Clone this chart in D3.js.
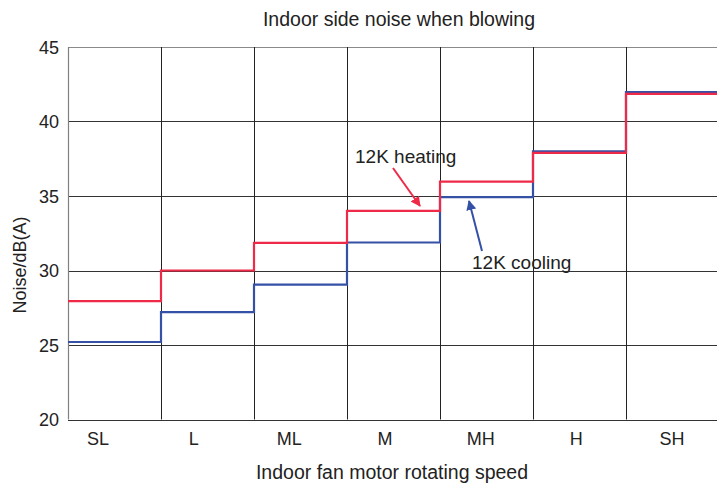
<!DOCTYPE html>
<html><head><meta charset="utf-8">
<script src="https://cdn.jsdelivr.net/npm/d3@7"></script>
<style>body{margin:0;background:#fff}svg{display:block;font-family:"Liberation Sans",Arial,sans-serif}</style>
</head><body><svg id="c" width="717" height="490"></svg>
<script>
const categories = ["SL","L","ML","M","MH","H","SH"];
const heating = [27.95, 30.0, 31.85, 34.0, 35.97, 37.9, 41.86];
const cooling = [25.2, 27.2, 29.05, 31.88, 34.93, 38.0, 41.98];
const yTicks = [20,25,30,35,40,45];

const svg = d3.select("#c");
const L = 68, T = 47, B = 419.5, colW = 93;
const x = d3.scaleBand().domain(categories).range([L, L + colW*categories.length]);
const y = d3.scaleLinear().domain([20,45]).range([B, T]);
const xl = d3.scalePoint().domain(categories).range([98, 672]);

// horizontal grid
svg.append("g").selectAll("line").data(yTicks).join("line")
  .attr("x1", L).attr("x2", 717)
  .attr("y1", d=>Math.round(y(d))+0.5).attr("y2", d=>Math.round(y(d))+0.5)
  .attr("stroke", d=> d===45 ? "#8a8a8a" : "#333").attr("stroke-width",1);
// vertical grid
svg.append("g").selectAll("line").data(categories.slice(1)).join("line")
  .attr("x1", d=>Math.round(x(d))+0.5).attr("x2", d=>Math.round(x(d))+0.5)
  .attr("y1", y(45)).attr("y2", y(20)).attr("stroke","#222").attr("stroke-width",1);
// left axis
svg.append("line").attr("x1",L+0.5).attr("x2",L+0.5).attr("y1",y(45)).attr("y2",y(20))
  .attr("stroke","#808080").attr("stroke-width",1.2);

// y tick labels
svg.append("g").selectAll("text").data(yTicks).join("text")
  .attr("x", 59).attr("y", d=>y(d)+6.5).attr("text-anchor","end")
  .attr("font-size",18).attr("fill","#222").text(d=>d);
// x labels
svg.append("g").selectAll("text").data(categories).join("text")
  .attr("x", d=>xl(d)).attr("y", 445).attr("text-anchor","middle")
  .attr("font-size",18).attr("fill","#222").text(d=>d);

// step lines
const line = d3.line().curve(d3.curveStepAfter).x(d=>d[0]).y(d=>d[1]);
function pts(vals){
  const p = categories.map((c,i)=>[x(c), y(vals[i])]);
  p.push([x(categories[categories.length-1]) + x.bandwidth(), y(vals[vals.length-1])]);
  return p;
}
svg.append("path").attr("d", line(pts(cooling))).attr("fill","none")
  .attr("stroke","#3551a6").attr("stroke-width",2.2);
svg.append("path").attr("d", line(pts(heating))).attr("fill","none")
  .attr("stroke","#ee2a48").attr("stroke-width",2.2);

// arrows
const defs = svg.append("defs");
function marker(id,col){
  defs.append("marker").attr("id",id).attr("viewBox","0 0 10 10").attr("refX",9).attr("refY",5)
    .attr("markerWidth",5).attr("markerHeight",5).attr("orient","auto-start-reverse")
    .attr("markerUnits","strokeWidth")
    .append("path").attr("d","M0,0 L10,5 L0,10 z").attr("fill",col);
}
marker("mr","#ee2a48"); marker("mb","#3551a6");
svg.append("line").attr("x1",393).attr("y1",168).attr("x2",420).attr("y2",206)
  .attr("stroke","#ee2a48").attr("stroke-width",2).attr("marker-end","url(#mr)");
svg.append("line").attr("x1",482).attr("y1",251).attr("x2",469).attr("y2",201)
  .attr("stroke","#3551a6").attr("stroke-width",2).attr("marker-end","url(#mb)");
svg.append("text").attr("x",355).attr("y",163).attr("font-size",19).attr("fill","#222").text("12K heating");
svg.append("text").attr("x",472).attr("y",269).attr("font-size",19).attr("fill","#222").text("12K cooling");

// titles
svg.append("text").attr("x",399).attr("y",26).attr("text-anchor","middle")
  .attr("font-size",19.5).attr("fill","#222").text("Indoor side noise when blowing");
svg.append("text").attr("x",392).attr("y",479).attr("text-anchor","middle")
  .attr("font-size",19.5).attr("fill","#222").text("Indoor fan motor rotating speed");
svg.append("text").attr("transform","translate(26,265) rotate(-90)").attr("text-anchor","middle")
  .attr("font-size",18).attr("fill","#222").text("Noise/dB(A)");
</script></body></html>
